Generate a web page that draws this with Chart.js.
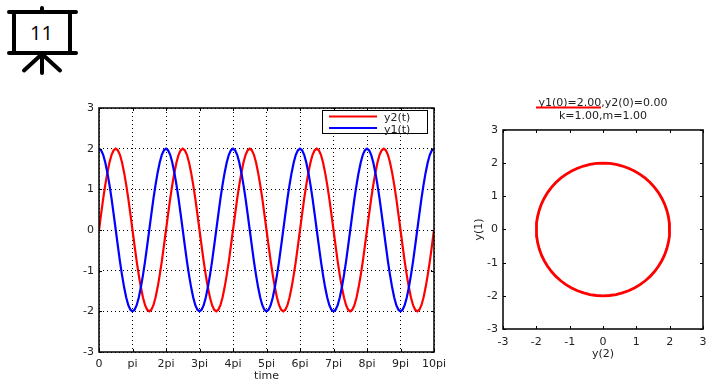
<!DOCTYPE html>
<html>
<head>
<meta charset="utf-8">
<title>11</title>
<script src="https://cdn.jsdelivr.net/npm/chart.js@4/dist/chart.umd.min.js"></script>
<style>
    html, body { margin: 0; padding: 0; background: #fff; overflow: hidden; }
    #icon { position: absolute; left: 0; top: 0; }
    #timeWrap { position: absolute; left: 0; top: 90px; width: 460px; height: 297px; }
    #phaseWrap { position: absolute; left: 460px; top: 90px; width: 258px; height: 297px; }
</style>
</head>
<body>
<svg id="icon" width="90" height="85" viewBox="0 0 90 85">
    <g stroke="#000" stroke-linecap="round" fill="none">
        <line x1="42" y1="8" x2="42" y2="12" stroke-width="4"/>
        <line x1="9" y1="12" x2="76" y2="12" stroke-width="4"/>
        <line x1="9" y1="53" x2="76" y2="53" stroke-width="4"/>
        <rect x="14" y="12" width="56" height="41" stroke-width="4"/>
        <line x1="42" y1="53" x2="42" y2="73" stroke-width="4"/>
        <line x1="42" y1="54" x2="24" y2="70.5" stroke-width="4"/>
        <line x1="42" y1="54" x2="60" y2="70.5" stroke-width="4"/>
    </g>
    <text x="41.5" y="39.5" text-anchor="middle" font-family="Open Sans" font-size="20" fill="#000">11</text>
</svg>
<div id="timeWrap"><canvas id="timeChart"></canvas></div>
<div id="phaseWrap"><canvas id="phaseChart"></canvas></div>
<script>
document.addEventListener('DOMContentLoaded', function() {
    // time in units of pi
    const t = [
        0, 0.0625, 0.125, 0.1875, 0.25, 0.3125, 0.375, 0.4375, 0.5, 0.5625, 0.625, 0.6875, 0.75, 0.8125, 0.875, 0.9375,
        1, 1.0625, 1.125, 1.1875, 1.25, 1.3125, 1.375, 1.4375, 1.5, 1.5625, 1.625, 1.6875, 1.75, 1.8125, 1.875, 1.9375,
        2, 2.0625, 2.125, 2.1875, 2.25, 2.3125, 2.375, 2.4375, 2.5, 2.5625, 2.625, 2.6875, 2.75, 2.8125, 2.875, 2.9375,
        3, 3.0625, 3.125, 3.1875, 3.25, 3.3125, 3.375, 3.4375, 3.5, 3.5625, 3.625, 3.6875, 3.75, 3.8125, 3.875, 3.9375,
        4, 4.0625, 4.125, 4.1875, 4.25, 4.3125, 4.375, 4.4375, 4.5, 4.5625, 4.625, 4.6875, 4.75, 4.8125, 4.875, 4.9375,
        5, 5.0625, 5.125, 5.1875, 5.25, 5.3125, 5.375, 5.4375, 5.5, 5.5625, 5.625, 5.6875, 5.75, 5.8125, 5.875, 5.9375,
        6, 6.0625, 6.125, 6.1875, 6.25, 6.3125, 6.375, 6.4375, 6.5, 6.5625, 6.625, 6.6875, 6.75, 6.8125, 6.875, 6.9375,
        7, 7.0625, 7.125, 7.1875, 7.25, 7.3125, 7.375, 7.4375, 7.5, 7.5625, 7.625, 7.6875, 7.75, 7.8125, 7.875, 7.9375,
        8, 8.0625, 8.125, 8.1875, 8.25, 8.3125, 8.375, 8.4375, 8.5, 8.5625, 8.625, 8.6875, 8.75, 8.8125, 8.875, 8.9375,
        9, 9.0625, 9.125, 9.1875, 9.25, 9.3125, 9.375, 9.4375, 9.5, 9.5625, 9.625, 9.6875, 9.75, 9.8125, 9.875, 9.9375,
        10
    ];
    const y1 = [
        2, 1.96, 1.85, 1.66, 1.41, 1.11, 0.77, 0.39, 0, -0.39, -0.77, -1.11, -1.41, -1.66, -1.85, -1.96,
        -2, -1.96, -1.85, -1.66, -1.41, -1.11, -0.77, -0.39, 0, 0.39, 0.77, 1.11, 1.41, 1.66, 1.85, 1.96,
        2, 1.96, 1.85, 1.66, 1.41, 1.11, 0.77, 0.39, 0, -0.39, -0.77, -1.11, -1.41, -1.66, -1.85, -1.96,
        -2, -1.96, -1.85, -1.66, -1.41, -1.11, -0.77, -0.39, 0, 0.39, 0.77, 1.11, 1.41, 1.66, 1.85, 1.96,
        2, 1.96, 1.85, 1.66, 1.41, 1.11, 0.77, 0.39, 0, -0.39, -0.77, -1.11, -1.41, -1.66, -1.85, -1.96,
        -2, -1.96, -1.85, -1.66, -1.41, -1.11, -0.77, -0.39, 0, 0.39, 0.77, 1.11, 1.41, 1.66, 1.85, 1.96,
        2, 1.96, 1.85, 1.66, 1.41, 1.11, 0.77, 0.39, 0, -0.39, -0.77, -1.11, -1.41, -1.66, -1.85, -1.96,
        -2, -1.96, -1.85, -1.66, -1.41, -1.11, -0.77, -0.39, 0, 0.39, 0.77, 1.11, 1.41, 1.66, 1.85, 1.96,
        2, 1.96, 1.85, 1.66, 1.41, 1.11, 0.77, 0.39, 0, -0.39, -0.77, -1.11, -1.41, -1.66, -1.85, -1.96,
        -2, -1.96, -1.85, -1.66, -1.41, -1.11, -0.77, -0.39, 0, 0.39, 0.77, 1.11, 1.41, 1.66, 1.85, 1.96,
        2
    ];
    const y2 = [
        0, 0.39, 0.77, 1.11, 1.41, 1.66, 1.85, 1.96, 2, 1.96, 1.85, 1.66, 1.41, 1.11, 0.77, 0.39,
        0, -0.39, -0.77, -1.11, -1.41, -1.66, -1.85, -1.96, -2, -1.96, -1.85, -1.66, -1.41, -1.11, -0.77, -0.39,
        0, 0.39, 0.77, 1.11, 1.41, 1.66, 1.85, 1.96, 2, 1.96, 1.85, 1.66, 1.41, 1.11, 0.77, 0.39,
        0, -0.39, -0.77, -1.11, -1.41, -1.66, -1.85, -1.96, -2, -1.96, -1.85, -1.66, -1.41, -1.11, -0.77, -0.39,
        0, 0.39, 0.77, 1.11, 1.41, 1.66, 1.85, 1.96, 2, 1.96, 1.85, 1.66, 1.41, 1.11, 0.77, 0.39,
        0, -0.39, -0.77, -1.11, -1.41, -1.66, -1.85, -1.96, -2, -1.96, -1.85, -1.66, -1.41, -1.11, -0.77, -0.39,
        0, 0.39, 0.77, 1.11, 1.41, 1.66, 1.85, 1.96, 2, 1.96, 1.85, 1.66, 1.41, 1.11, 0.77, 0.39,
        0, -0.39, -0.77, -1.11, -1.41, -1.66, -1.85, -1.96, -2, -1.96, -1.85, -1.66, -1.41, -1.11, -0.77, -0.39,
        0, 0.39, 0.77, 1.11, 1.41, 1.66, 1.85, 1.96, 2, 1.96, 1.85, 1.66, 1.41, 1.11, 0.77, 0.39,
        0, -0.39, -0.77, -1.11, -1.41, -1.66, -1.85, -1.96, -2, -1.96, -1.85, -1.66, -1.41, -1.11, -0.77, -0.39,
        0
    ];
    // one lap of the phase plot, sampled finer so the circle stays round
    const phaseX = [
        0, 0.196, 0.39, 0.581, 0.765, 0.942, 1.111, 1.268, 1.414, 1.546, 1.663, 1.763, 1.848, 1.913, 1.962, 1.99,
        2, 1.99, 1.962, 1.913, 1.848, 1.763, 1.663, 1.546, 1.414, 1.268, 1.111, 0.942, 0.765, 0.581, 0.39, 0.196,
        0, -0.196, -0.39, -0.581, -0.765, -0.942, -1.111, -1.268, -1.414, -1.546, -1.663, -1.763, -1.848, -1.913, -1.962, -1.99,
        -2, -1.99, -1.962, -1.913, -1.848, -1.763, -1.663, -1.546, -1.414, -1.268, -1.111, -0.942, -0.765, -0.581, -0.39, -0.196,
        0
    ];
    const phaseY = [
        2, 1.99, 1.962, 1.913, 1.848, 1.763, 1.663, 1.546, 1.414, 1.268, 1.111, 0.942, 0.765, 0.581, 0.39, 0.196,
        0, -0.196, -0.39, -0.581, -0.765, -0.942, -1.111, -1.268, -1.414, -1.546, -1.663, -1.763, -1.848, -1.913, -1.962, -1.99,
        -2, -1.99, -1.962, -1.913, -1.848, -1.763, -1.663, -1.546, -1.414, -1.268, -1.111, -0.942, -0.765, -0.581, -0.39, -0.196,
        0, 0.196, 0.39, 0.581, 0.765, 0.942, 1.111, 1.268, 1.414, 1.546, 1.663, 1.763, 1.848, 1.913, 1.962, 1.99,
        2
    ];
    const piTickLabels = ['0', 'pi', '2pi', '3pi', '4pi', '5pi', '6pi', '7pi', '8pi', '9pi', '10pi'];
    const phaseTitle = ['y1(0)=2.00,y2(0)=0.00', 'k=1.00,m=1.00'];

    const font = { family: '"DejaVu Sans"', size: 11 };
    const textColor = '#222';

    // gnuplot style frame with ticks pointing inward
    const framePlugin = {
        id: 'frame',
        afterDatasetsDraw(chart) {
            const a = chart.chartArea;
            const ctx = chart.ctx;
            ctx.save();
            ctx.strokeStyle = '#000';
            ctx.lineWidth = 1;
            ctx.beginPath();
            chart.scales.x.ticks.forEach(function(tick) {
                const px = Math.round(chart.scales.x.getPixelForValue(tick.value)) + 0.5;
                ctx.moveTo(px, a.bottom); ctx.lineTo(px, a.bottom - 3);
                ctx.moveTo(px, a.top); ctx.lineTo(px, a.top + 3);
            });
            chart.scales.y.ticks.forEach(function(tick) {
                const py = Math.round(chart.scales.y.getPixelForValue(tick.value)) + 0.5;
                ctx.moveTo(a.left, py); ctx.lineTo(a.left + 3, py);
                ctx.moveTo(a.right, py); ctx.lineTo(a.right - 3, py);
            });
            ctx.stroke();
            ctx.lineWidth = 1.5;
            ctx.strokeRect(a.left, a.top, a.right - a.left, a.bottom - a.top);
            ctx.restore();
        }
    };

    // boxed legend inside the plot, top right
    const boxLegend = {
        id: 'boxLegend',
        afterDraw(chart) {
            const ctx = chart.ctx;
            ctx.save();
            ctx.fillStyle = '#fff';
            ctx.fillRect(322, 20.5, 105, 24);
            ctx.strokeStyle = '#000';
            ctx.lineWidth = 1;
            ctx.strokeRect(322.5, 20.5, 105, 23);
            ctx.font = '11px "DejaVu Sans"';
            ctx.textBaseline = 'middle';
            chart.data.datasets.forEach(function(ds, i) {
                const y = 26.5 + i * 11.5;
                ctx.strokeStyle = ds.borderColor;
                ctx.lineWidth = 2;
                ctx.beginPath();
                ctx.moveTo(329, y);
                ctx.lineTo(377, y);
                ctx.stroke();
                ctx.fillStyle = textColor;
                ctx.fillText(ds.label, 384, y + 2);
            });
            ctx.restore();
        }
    };

    // the short red key line that sits under the first title line
    const keyLine = {
        id: 'keyLine',
        afterDraw(chart) {
            const ctx = chart.ctx;
            ctx.save();
            ctx.strokeStyle = chart.data.datasets[0].borderColor;
            ctx.lineWidth = 2;
            ctx.beginPath();
            ctx.moveTo(76, 17.5);
            ctx.lineTo(141, 17.5);
            ctx.stroke();
            ctx.restore();
        }
    };

    new Chart(document.getElementById('timeChart').getContext('2d'), {
        type: 'scatter',
        data: {
            datasets: [{
                label: 'y2(t)',
                data: t.map(function(v, i) { return { x: v, y: y2[i] }; }),
                borderColor: '#ff0000',
                borderWidth: 2.2,
                showLine: true,
                pointRadius: 0,
                order: 2
            }, {
                label: 'y1(t)',
                data: t.map(function(v, i) { return { x: v, y: y1[i] }; }),
                borderColor: '#0000ff',
                borderWidth: 2.2,
                showLine: true,
                pointRadius: 0,
                order: 1
            }]
        },
        options: {
            responsive: true,
            maintainAspectRatio: false,
            animation: false,
            layout: { padding: { top: 18, right: 26, bottom: 4, left: 0 } },
            plugins: { legend: { display: false }, tooltip: { enabled: false } },
            scales: {
                x: {
                    type: 'linear',
                    min: 0,
                    max: 10,
                    afterFit: function(scale) { scale.height = 31; },
                    border: { display: false, dash: [1, 3] },
                    grid: { color: '#000', drawTicks: false },
                    ticks: {
                        stepSize: 1,
                        maxRotation: 0,
                        autoSkip: false,
                        padding: 6,
                        color: textColor,
                        font: font,
                        callback: function(value) { return piTickLabels[value]; }
                    },
                    title: { display: true, text: 'time', color: textColor, font: font, padding: 0 }
                },
                y: {
                    min: -3,
                    max: 3,
                    afterFit: function(scale) { scale.width = 99; },
                    border: { display: false, dash: [1, 3] },
                    grid: { color: '#000', drawTicks: false },
                    ticks: { stepSize: 1, padding: 5, color: textColor, font: font }
                }
            }
        },
        plugins: [framePlugin, boxLegend]
    });

    new Chart(document.getElementById('phaseChart').getContext('2d'), {
        type: 'scatter',
        data: {
            datasets: [{
                label: 'y1(y2)',
                data: phaseX.map(function(v, i) { return { x: v, y: phaseY[i] }; }),
                borderColor: '#ff0000',
                borderWidth: 2.8,
                showLine: true,
                pointRadius: 0
            }]
        },
        options: {
            responsive: true,
            maintainAspectRatio: false,
            animation: false,
            layout: { padding: { top: 0, right: 15, bottom: 26, left: 13 } },
            plugins: {
                legend: { display: false },
                tooltip: { enabled: false },
                title: {
                    display: true,
                    text: phaseTitle,
                    fullSize: false,
                    color: textColor,
                    font: Object.assign({ lineHeight: 1.18, weight: 'normal' }, font),
                    padding: { top: 7, bottom: 7 }
                }
            },
            scales: {
                x: {
                    min: -3,
                    max: 3,
                    afterFit: function(scale) { scale.height = 32; },
                    border: { display: false },
                    grid: { display: false, drawTicks: false },
                    ticks: { stepSize: 1, padding: 7, maxRotation: 0, color: textColor, font: font },
                    title: { display: true, text: 'y(2)', color: textColor, font: font, padding: 0 }
                },
                y: {
                    min: -3,
                    max: 3,
                    afterFit: function(scale) { scale.width = 30; },
                    border: { display: false },
                    grid: { display: false, drawTicks: false },
                    ticks: { stepSize: 1, padding: 5, color: textColor, font: font },
                    title: { display: true, text: 'y(1)', color: textColor, font: font, padding: 0 }
                }
            }
        },
        plugins: [framePlugin, keyLine]
    });
});
</script>
</body>
</html>
